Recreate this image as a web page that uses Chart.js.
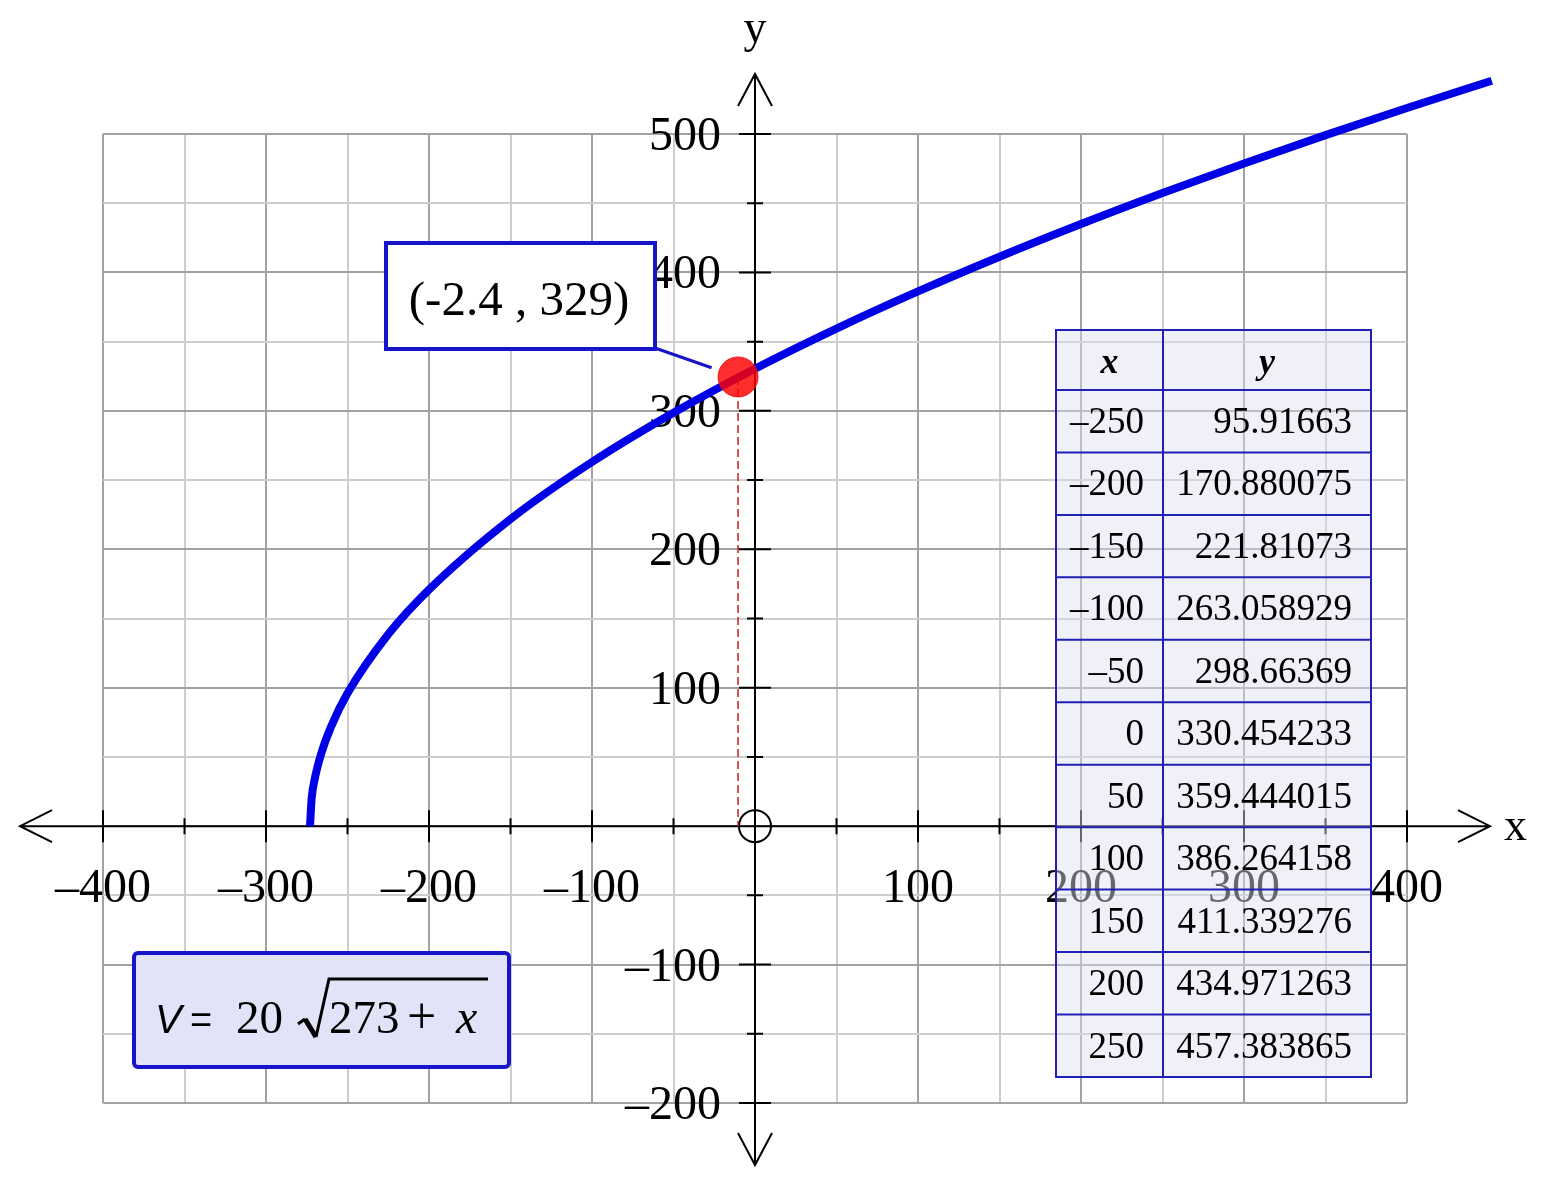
<!DOCTYPE html>
<html>
<head>
<meta charset="utf-8">
<script src="https://cdn.jsdelivr.net/npm/chart.js@4.4.1/dist/chart.umd.min.js"></script>
<style>
html, body { margin: 0; padding: 0; background: #fff; }
canvas { display: block; }
</style>
</head>
<body>
<canvas id="graph" width="1547" height="1186"></canvas>
<script>
// points, from its right end back to the root at x = -273
const curveX = [452, 400, 350, 300, 250, 200, 150, 100, 50, 0, -50, -100, -150, -200, -225, -250, -260, -266, -270, -272, -273];
const curveY = [538.5, 518.8, 499.2, 478.7, 457.38, 434.97, 411.34, 386.26, 359.44, 330.45, 298.66, 263.06, 221.81, 170.88, 138.6, 95.92, 72.1, 52.9, 34.6, 20, 0];

// marked point and its label
const markX = [-10.4];
const markY = [324.5];
const markLabel = '(-2.4 , 329)';

// axis labels
const xTicks = [-400, -300, -200, -100, 100, 200, 300, 400];
const yTicks = [-200, -100, 100, 200, 300, 400, 500];

// value table
const tableX = ['\u2013250', '\u2013200', '\u2013150', '\u2013100', '\u201350', '0', '50', '100', '150', '200', '250'];
const tableY = ['95.91663', '170.880075', '221.81073', '263.058929', '298.66369', '330.454233', '359.444015', '386.264158', '411.339276', '434.971263', '457.383865'];

const SERIF = '"Liberation Serif", "Times New Roman", serif';
const SANS = '"Liberation Sans", Arial, sans-serif';
const BLUE = '#1616c8';

function num(v) {
    return v < 0 ? '\u2013' + Math.abs(v) : String(v);
}

const axesPlugin = {
    id: 'axes',
    beforeDatasetsDraw(chart) {
        const { ctx, chartArea: a, scales: { x, y } } = chart;
        const ox = x.getPixelForValue(0);
        const oy = y.getPixelForValue(0);
        const left = a.left - 83, right = a.right + 83;
        const top = a.top - 60, bottom = a.bottom + 62;
        ctx.save();
        ctx.strokeStyle = '#000';
        ctx.lineWidth = 2;
        ctx.beginPath();
        ctx.moveTo(left, oy); ctx.lineTo(right, oy);
        ctx.moveTo(ox, top); ctx.lineTo(ox, bottom);
        // open arrow heads
        ctx.moveTo(left + 32, oy - 16); ctx.lineTo(left, oy); ctx.lineTo(left + 32, oy + 16);
        ctx.moveTo(right - 32, oy - 16); ctx.lineTo(right, oy); ctx.lineTo(right - 32, oy + 16);
        ctx.moveTo(ox - 17, top + 32); ctx.lineTo(ox, top); ctx.lineTo(ox + 17, top + 32);
        ctx.moveTo(ox - 17, bottom - 32); ctx.lineTo(ox, bottom); ctx.lineTo(ox + 17, bottom - 32);
        // tick marks
        x.ticks.forEach(t => {
            if (t.value === 0) return;
            const px = x.getPixelForValue(t.value);
            const h = t.value % 100 === 0 ? 16 : 8;
            ctx.moveTo(px, oy - h); ctx.lineTo(px, oy + h);
        });
        y.ticks.forEach(t => {
            if (t.value === 0) return;
            const py = y.getPixelForValue(t.value);
            const h = t.value % 100 === 0 ? 16 : 8;
            ctx.moveTo(ox - h, py); ctx.lineTo(ox + h, py);
        });
        ctx.stroke();
        ctx.beginPath();
        ctx.arc(ox, oy, 16, 0, Math.PI * 2);
        ctx.stroke();

        ctx.fillStyle = '#000';
        ctx.font = '48px ' + SERIF;
        ctx.textBaseline = 'alphabetic';
        ctx.textAlign = 'center';
        xTicks.forEach(v => ctx.fillText(num(v), x.getPixelForValue(v), oy + 76));
        ctx.textAlign = 'right';
        yTicks.forEach(v => ctx.fillText(num(v), ox - 34, y.getPixelForValue(v) + 16));
        ctx.font = '46px ' + SERIF;
        ctx.textAlign = 'left';
        ctx.fillText('x', right + 14, oy + 14);
        ctx.textAlign = 'center';
        ctx.fillText('y', ox, 42);
        ctx.restore();
    },
    afterDatasetsDraw(chart) {
        const { ctx } = chart;
        const left = 1056, mid = 1163, right = 1371, top = 330, head = 390, rowH = 62.45;
        const bottom = head + rowH * tableX.length;
        ctx.save();
        ctx.fillStyle = 'rgba(222,222,240,0.46)';
        ctx.fillRect(left, top, right - left, bottom - top);
        ctx.strokeStyle = '#2020b4';
        ctx.lineWidth = 2;
        ctx.beginPath();
        ctx.rect(left, top, right - left, bottom - top);
        ctx.moveTo(mid, top); ctx.lineTo(mid, bottom);
        for (let i = 0; i < tableX.length; i++) {
            const ry = head + rowH * i;
            ctx.moveTo(left, ry); ctx.lineTo(right, ry);
        }
        ctx.stroke();
        ctx.fillStyle = '#000';
        ctx.textBaseline = 'alphabetic';
        ctx.font = 'italic bold 36px ' + SERIF;
        ctx.textAlign = 'center';
        ctx.fillText('x', (left + mid) / 2, 373);
        ctx.fillText('y', (mid + right) / 2, 373);
        ctx.font = '37px ' + SERIF;
        ctx.textAlign = 'right';
        tableX.forEach((s, i) => {
            const base = head + rowH * i + 43;
            ctx.fillText(s, 1144, base);
            ctx.fillText(tableY[i], 1352, base);
        });
        ctx.restore();
    },
    afterDraw(chart) {
        const { ctx, scales: { x, y } } = chart;
        ctx.save();
        // callout box with leader line to the marked point
        const mx = x.getPixelForValue(markX[0]), my = y.getPixelForValue(markY[0]);
        const bx = 655, by = 348;
        const dx = mx - bx, dy = my - by, d = Math.hypot(dx, dy);
        const k = (d - 28) / d;
        ctx.strokeStyle = BLUE;
        ctx.lineWidth = 3;
        ctx.beginPath();
        ctx.moveTo(bx, by); ctx.lineTo(bx + dx * k, by + dy * k);
        ctx.stroke();
        ctx.fillStyle = '#fff';
        ctx.fillRect(386, 243, 269, 106);
        ctx.lineWidth = 4;
        ctx.strokeRect(386, 243, 269, 106);
        ctx.fillStyle = '#000';
        ctx.font = '49px ' + SERIF;
        ctx.textAlign = 'center';
        ctx.textBaseline = 'alphabetic';
        ctx.fillText(markLabel, 519, 315);

        // formula box
        ctx.fillStyle = '#e2e2f8';
        ctx.beginPath();
        ctx.roundRect(134, 953, 375, 114, 4);
        ctx.fill();
        ctx.strokeStyle = BLUE;
        ctx.lineWidth = 4;
        ctx.stroke();
        ctx.fillStyle = '#000';
        ctx.textAlign = 'left';
        ctx.font = 'italic 40px ' + SANS;
        ctx.fillText('V', 155, 1033);
        ctx.font = '38px ' + SANS;
        ctx.fillText('=', 190, 1033);
        ctx.font = '47px ' + SERIF;
        ctx.fillText('20', 236, 1033);
        ctx.fillText('273', 329, 1033);
        ctx.font = '52px ' + SERIF;
        ctx.fillText('+', 407, 1033);
        ctx.font = 'italic 48px ' + SERIF;
        ctx.fillText('x', 456, 1033);
        // radical sign
        ctx.strokeStyle = '#000';
        ctx.lineJoin = 'miter';
        ctx.lineWidth = 3;
        ctx.beginPath();
        ctx.moveTo(298, 1024); ctx.lineTo(305, 1019);
        ctx.stroke();
        ctx.lineWidth = 5;
        ctx.beginPath();
        ctx.moveTo(305, 1019); ctx.lineTo(316, 1037);
        ctx.stroke();
        ctx.lineWidth = 3;
        ctx.beginPath();
        ctx.moveTo(316, 1037); ctx.lineTo(329, 979); ctx.lineTo(488, 979);
        ctx.stroke();
        ctx.restore();
    }
};

function pts(xs, ys) {
    return xs.map((v, i) => ({ x: v, y: ys[i] }));
}

function gridColor(c) {
    return c.tick && c.tick.value % 100 === 0 ? '#a2a2a2' : '#cdcdcd';
}

const ctx = document.getElementById('graph').getContext('2d');
const graph = new Chart(ctx, {
    type: 'scatter',
    data: {
        datasets: [
            {
                label: 'point',
                data: pts(markX, markY),
                pointRadius: 20,
                pointBackgroundColor: 'rgba(255,0,0,0.82)',
                pointBorderColor: 'rgba(235,20,20,0.9)',
                pointBorderWidth: 1
            },
            {
                label: 'drop',
                data: [{ x: markX[0], y: markY[0] }, { x: markX[0], y: 0 }],
                showLine: true,
                borderColor: '#c81e1e',
                borderWidth: 1.5,
                borderDash: [8, 4],
                pointRadius: 0
            },
            {
                label: 'V',
                data: pts(curveX, curveY),
                showLine: true,
                clip: false,
                borderColor: '#0000e6',
                borderWidth: 8,
                borderCapStyle: 'butt',
                cubicInterpolationMode: 'monotone',
                capBezierPoints: false,
                pointRadius: 0
            }
        ]
    },
    options: {
        responsive: false,
        animation: false,
        layout: { padding: { left: 103, right: 140, top: 134, bottom: 83 } },
        plugins: { legend: { display: false }, tooltip: { enabled: false } },
        scales: {
            x: {
                type: 'linear',
                min: -400,
                max: 400,
                ticks: { display: false, stepSize: 50 },
                grid: { color: gridColor, lineWidth: 2, drawTicks: false },
                border: { display: false }
            },
            y: {
                type: 'linear',
                min: -200,
                max: 500,
                ticks: { display: false, stepSize: 50 },
                grid: { color: gridColor, lineWidth: 2, drawTicks: false },
                border: { display: false }
            }
        }
    },
    plugins: [axesPlugin]
});
</script>
</body>
</html>
